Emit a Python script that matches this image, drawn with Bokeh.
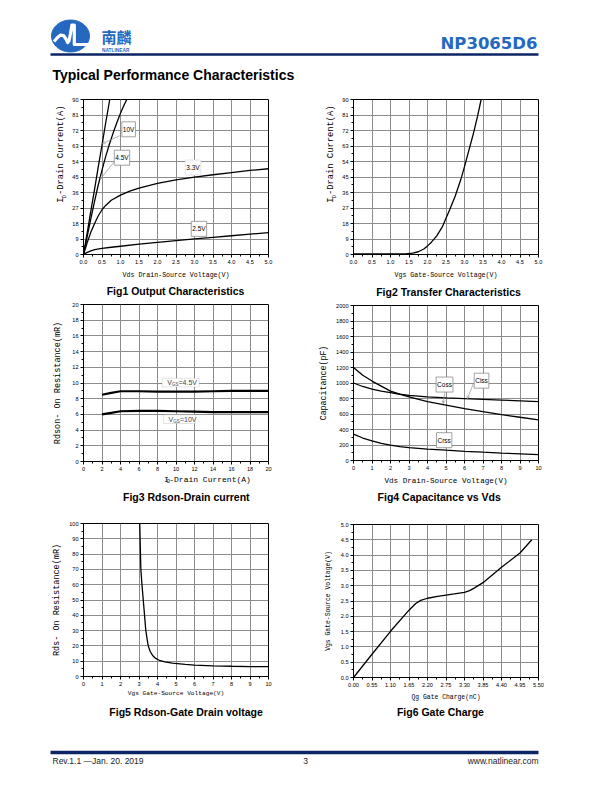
import math
from bokeh.plotting import figure
from bokeh.layouts import column, row
from bokeh.models import (Range1d, FixedTicker, PrintfTickFormatter, Label,
                          BoxAnnotation, Arrow, OpenHead)
from bokeh.embed import file_html
from bokeh.resources import INLINE
from bokeh.core.properties import value

# ---------------- data ----------------
# Fig1 Output Characteristics: Vds (V) -> Id (A) for several Vgs
f1_x_10v = [0, 0.1, 0.2, 0.3, 0.4, 0.5, 0.6, 0.71]
f1_y_10v = [0, 12.5, 25.5, 38, 51, 63.5, 76.5, 90]
f1_x_45v = [0, 0.1, 0.2, 0.3, 0.4, 0.5, 0.6, 0.7, 0.8, 0.9, 1.0, 1.1, 1.17]
f1_y_45v = [0, 10.5, 21, 31, 40.5, 49, 57, 64, 70.5, 76.5, 82, 87, 90]
f1_x_33v = [0, 0.1, 0.2, 0.3, 0.4, 0.5, 0.6, 0.75, 1.0, 1.25, 1.5, 2.0, 2.5, 3.0, 3.5, 4.0, 4.5, 5.0]
f1_y_33v = [0, 7, 13, 18, 22.5, 26, 28.5, 31.5, 34.5, 36.8, 38.6, 41.3, 43.3, 44.9, 46.3, 47.6, 48.8, 49.8]
f1_x_25v = [0, 0.1, 0.2, 0.3, 0.5, 0.75, 1.0, 1.5, 2.0, 2.5, 3.0, 3.5, 4.0, 4.5, 5.0]
f1_y_25v = [0, 1.2, 2.1, 2.8, 3.5, 4.2, 4.8, 6.0, 7.1, 8.1, 9.1, 10.0, 10.9, 11.8, 12.7]
f1_label_text = ["10V", "4.5V", "3.3V", "2.5V"]
f1_label_x = [1.22, 1.04, 2.96, 3.12]
f1_label_y = [72.7, 56.2, 50.5, 14.9]
f1_leader_start = [(0.98, 69.0), (0.82, 53.6)]
f1_leader_end = [(0.505, 64.3), (0.46, 43.9)]
f1_xticks = [0, 0.5, 1.0, 1.5, 2.0, 2.5, 3.0, 3.5, 4.0, 4.5, 5.0]
f1_yticks = [0, 9, 18, 27, 36, 45, 54, 63, 72, 81, 90]

# Fig2 Transfer Characteristics: Vgs (V) -> Id (A)
f2_vgs = [0, 0.5, 1.0, 1.4, 1.6, 1.75, 1.9, 2.0, 2.1, 2.25, 2.4, 2.5, 2.6, 2.75, 2.9, 3.0, 3.1, 3.25, 3.35, 3.45]
f2_id = [0.3, 0.3, 0.3, 0.4, 0.8, 1.6, 3.2, 5, 7, 10.8, 16, 21, 26, 34, 43.5, 51, 59, 71, 80, 90]
f2_xticks = f1_xticks
f2_yticks = f1_yticks

# Fig3 Rdson vs Drain current
f3_id = [2, 3, 4, 6, 8, 10, 12, 14, 16, 18, 20]
f3_r_45v = [8.5, 8.75, 8.95, 8.95, 8.9, 8.9, 8.9, 8.95, 9.0, 9.0, 9.0]
f3_r_10v = [6.0, 6.2, 6.4, 6.45, 6.45, 6.4, 6.35, 6.3, 6.3, 6.3, 6.3]
f3_box_left = [8.5, 8.65]
f3_box_right = [12.5, 12.1]
f3_box_top = [10.6, 5.95]
f3_box_bottom = [9.5, 4.84]
f3_box_text = ["=4.5V", "=10V"]
f3_xticks = [0, 2, 4, 6, 8, 10, 12, 14, 16, 18, 20]
f3_yticks = [0, 2, 4, 6, 8, 10, 12, 14, 16, 18, 20]

# Fig4 Capacitance vs Vds
f4_vds = [0, 0.5, 1, 1.5, 2, 2.5, 3, 4, 5, 6, 7, 8, 9, 10]
f4_coss = [1200, 1100, 1025, 960, 895, 855, 820, 760, 715, 670, 630, 592, 558, 525]
f4_ciss = [1000, 955, 922, 895, 875, 855, 840, 822, 808, 798, 788, 779, 770, 760]
f4_crss = [340, 290, 252, 222, 198, 180, 165, 148, 133, 119, 107, 96, 86, 76]
f4_label_text = ["Coss", "Ciss", "Crss"]
f4_label_x = [4.92, 6.92, 4.9]
f4_label_y = [980, 1030, 262]
f4_arrow_start = [(4.97, 929), (6.5, 1003)]
f4_arrow_end = [(4.85, 735), (6.15, 796)]
f4_xticks = [0, 1, 2, 3, 4, 5, 6, 7, 8, 9, 10]
f4_yticks = [0, 200, 400, 600, 800, 1000, 1200, 1400, 1600, 1800, 2000]

# Fig5 Rdson vs Vgs
f5_vgs = [3.04, 3.07, 3.1, 3.16, 3.23, 3.3, 3.36, 3.43, 3.5, 3.6, 3.75, 3.9, 4.1, 4.4, 4.8, 5.5, 6, 7, 8, 9, 10]
f5_rds = [100, 85, 70, 60, 50, 40, 31, 25, 20, 16.5, 13.5, 11.8, 10.6, 9.6, 8.8, 7.9, 7.5, 7.0, 6.7, 6.5, 6.4]
f5_xticks = [0, 1, 2, 3, 4, 5, 6, 7, 8, 9, 10]
f5_yticks = [0, 10, 20, 30, 40, 50, 60, 70, 80, 90, 100]

# Fig6 Gate charge
f6_qg = [0, 0.55, 1.1, 1.65, 1.85, 2.0, 2.2, 2.5, 2.75, 3.0, 3.3, 3.45, 3.6, 3.85, 4.4, 4.95, 5.3]
f6_vgs = [0, 0.76, 1.51, 2.2, 2.42, 2.52, 2.59, 2.65, 2.69, 2.73, 2.78, 2.84, 2.93, 3.1, 3.6, 4.07, 4.5]
f6_xticks = [0, 0.55, 1.1, 1.65, 2.2, 2.75, 3.3, 3.85, 4.4, 4.95, 5.5]
f6_yticks = [0, 0.5, 1.0, 1.5, 2.0, 2.5, 3.0, 3.5, 4.0, 4.5, 5.0]

captions = ["Fig1 Output Characteristics", "Fig2 Transfer Characteristics",
            "Fig3 Rdson-Drain current", "Fig4 Capacitance vs Vds",
            "Fig5  Rdson-Gate Drain voltage", "Fig6 Gate Charge"]

# ---------------- styles ----------------
TICK_FONT = "Liberation Sans"
MONO = "Liberation Mono"
SANS = "Liberation Sans"
NAVY = "#0b2565"
BLUE = "#2468c0"
GRID = "#8c8c8c"
LEAD = "#909090"


def minors(ticks):
    return [(a + b) / 2 for a, b in zip(ticks[:-1], ticks[1:])]


def base_chart(w, h, ml, mr, mt, mb, xr, yr, xt, yt, xfmt, yfmt):
    p = figure(width=w, height=h, x_range=Range1d(*xr), y_range=Range1d(*yr),
               output_backend="svg", toolbar_location=None,
               min_border_left=ml, min_border_right=mr,
               min_border_top=mt, min_border_bottom=mb)
    p.background_fill_color = "white"
    p.border_fill_color = "white"
    p.outline_line_color = "black"
    p.outline_line_width = 1
    p.outline_line_alpha = 1
    for ax, ticks, fmt in ((p.xaxis[0], xt, xfmt), (p.yaxis[0], yt, yfmt)):
        ax.ticker = FixedTicker(ticks=ticks, minor_ticks=minors(ticks))
        ax.formatter = PrintfTickFormatter(format=fmt)
        ax.axis_line_color = "black"
        ax.major_tick_line_color = "black"
        ax.minor_tick_line_color = "black"
        ax.major_tick_out = 3
        ax.major_tick_in = 0
        ax.minor_tick_out = 2
        ax.minor_tick_in = 0
        ax.major_label_standoff = 2
        ax.major_label_text_font = TICK_FONT
        ax.major_label_text_font_size = "5.6px"
        ax.major_label_text_color = "black"
        ax.axis_label_text_font = MONO
        ax.axis_label_text_font_style = "normal"
        ax.axis_label_text_color = "black"
    p.grid.grid_line_color = GRID
    p.grid.grid_line_width = 1
    return p


def strip(w, h, x0, y0):
    """Text-only panel whose data coordinates equal page pixels."""
    f = figure(width=w, height=h, x_range=Range1d(x0, x0 + w), y_range=Range1d(y0 + h, y0),
               output_backend="svg", toolbar_location=None, min_border=0,
               x_axis_type=None, y_axis_type=None)
    f.outline_line_color = None
    f.background_fill_color = "white"
    f.border_fill_color = "white"
    return f


def put_caption(f, text, cx, cy):
    f.text(x=[cx], y=[cy], text=[text], text_font=value(SANS), text_font_style="bold",
           text_font_size="10.5px", text_align="center", text_baseline="middle",
           text_color="black")


def y_sub_label(f, x, y0, main, sub, rest, size, subsize):
    # rotated label reading bottom-to-top, with a subscript
    cw = 0.6 * size
    f.text(x=[x], y=[y0], text=[main], angle=math.pi / 2, text_align="left",
           text_baseline="middle", text_font=value(MONO), text_font_size=f"{size}px",
           text_color="black")
    f.text(x=[x + 2.8], y=[y0 - cw * len(main) - 0.5], text=[sub], angle=math.pi / 2,
           text_align="left", text_baseline="middle", text_font=value(MONO),
           text_font_size=f"{subsize}px", text_color="black")
    f.text(x=[x], y=[y0 - cw * len(main) - 0.6 * subsize * len(sub) - 1.0], text=[rest],
           angle=math.pi / 2, text_align="left", text_baseline="middle",
           text_font=value(MONO), text_font_size=f"{size}px", text_color="black")


def x_sub_label(f, x0, y, main, sub, rest, size, subsize):
    cw = 0.6 * size
    f.text(x=[x0], y=[y], text=[main], text_align="left", text_baseline="middle",
           text_font=value(MONO), text_font_size=f"{size}px", text_color="black")
    f.text(x=[x0 + cw * len(main) + 0.5], y=[y + 2.8], text=[sub], text_align="left",
           text_baseline="middle", text_font=value(MONO), text_font_size=f"{subsize}px",
           text_color="black")
    f.text(x=[x0 + cw * len(main) + 0.6 * subsize * len(sub) + 1.0], y=[y], text=[rest],
           text_align="left", text_baseline="middle", text_font=value(MONO),
           text_font_size=f"{size}px", text_color="black")


def boxed(p, x, y, text, border="#8a8a8a", size="6.5px"):
    p.add_layout(Label(x=x, y=y, text=text, text_align="center", text_baseline="middle",
                       text_font=SANS, text_font_size=size, text_color="black",
                       background_fill_color="white", background_fill_alpha=1,
                       border_line_color=border, border_line_width=0.8,
                       padding=(1, 4)))


# ---------------- header (page y 0..90) ----------------
hdr = strip(604, 90, 0, 0)
hdr.ellipse(x=[70], y=[35.5], width=[38], height=[32], fill_color=BLUE, line_color=BLUE)
hdr.line([53.5, 57, 60, 63, 65.5, 67.2, 68.6, 70, 71.4, 73.8, 73.8, 88],
         [41, 37, 34.6, 35, 38.5, 42, 40, 33, 24.5, 24.5, 44, 44],
         line_color="white", line_width=3.2, line_join="round")
hdr.text(x=[101], y=[36], text=["南麟"], text_font=value("Noto Sans CJK SC"),
         text_font_style="bold", text_font_size="15px", text_color=BLUE,
         text_baseline="middle", text_align="left")
hdr.text(x=[101.5], y=[49.5], text=["NATLINEAR"], text_font=value(SANS),
         text_font_style="bold", text_font_size="4.8px", text_color=BLUE,
         text_baseline="middle", text_align="left")
hdr.line([50, 538], [54, 54], line_color=NAVY, line_width=2.5)
hdr.text(x=[537], y=[52.5], text=["NP3065D6"], text_font=value("DejaVu Sans"),
         text_font_style="bold", text_font_size="16.5px", text_color=BLUE,
         text_baseline="bottom", text_align="right")
hdr.text(x=[52], y=[74], text=["Typical Performance Characteristics"], text_font=value(SANS),
         text_font_style="bold", text_font_size="14px", text_color="black",
         text_baseline="middle", text_align="left")

# ---------------- Fig1 (page x 0..306, y 90..300) ----------------
p1 = base_chart(238, 192, 15, 38, 9, 28, (0, 5), (0, 90), f1_xticks, f1_yticks, "%.1f", "%d")
for xs, ys in ((f1_x_10v, f1_y_10v), (f1_x_45v, f1_y_45v), (f1_x_33v, f1_y_33v), (f1_x_25v, f1_y_25v)):
    p1.line(xs, ys, line_color="black", line_width=1.3)
for (xs, ys), (xe, ye) in zip(f1_leader_start, f1_leader_end):
    p1.add_layout(Arrow(x_start=xs, y_start=ys, x_end=xe, y_end=ye, line_color=LEAD,
                        line_width=0.7, end=OpenHead(size=3, line_color=LEAD, line_width=0.7)))
for t, x, y in zip(f1_label_text, f1_label_x, f1_label_y):
    boxed(p1, x, y, t, border="#dddddd" if t == "3.3V" else "#8a8a8a")
p1.xaxis.axis_label = "Vds Drain-Source Voltage(V)"
p1.xaxis.axis_label_text_font_size = "6.6px"
p1.xaxis.axis_label_standoff = 5
l1 = strip(68, 192, 0, 90)
y_sub_label(l1, 60.7, 218, "I", "D", "-Drain Current(A)", 8.8, 5.5)
t1 = strip(306, 18, 0, 282)
put_caption(t1, captions[0], 175, 290)
cell1 = column(row(l1, p1), t1)

# ---------------- Fig2 (page x 306..604, y 90..300) ----------------
p2 = base_chart(266, 192, 15, 66, 9, 28, (0, 5), (0, 90), f2_xticks, f2_yticks, "%.1f", "%d")
p2.line(f2_vgs, f2_id, line_color="black", line_width=1.3)
p2.xaxis.axis_label = "Vgs Gate-Source Voltage(V)"
p2.xaxis.axis_label_text_font_size = "6.6px"
p2.xaxis.axis_label_standoff = 5
l2 = strip(32, 192, 306, 90)
y_sub_label(l2, 330.7, 218, "I", "D", "-Drain Current(A)", 8.8, 5.5)
t2 = strip(298, 18, 306, 282)
put_caption(t2, captions[1], 448, 291)
cell2 = column(row(l2, p2), t2)

# ---------------- Fig3 (page x 0..306, y 300..505) ----------------
p3 = base_chart(306, 173, 83, 38, 4, 12, (0, 20), (0, 20), f3_xticks, f3_yticks, "%d", "%d")
p3.line(f3_id, f3_r_45v, line_color="black", line_width=2.2)
p3.line(f3_id, f3_r_10v, line_color="black", line_width=2.2)
for l, r, t, b, txt in zip(f3_box_left, f3_box_right, f3_box_top, f3_box_bottom, f3_box_text):
    p3.add_layout(BoxAnnotation(left=l, right=r, top=t, bottom=b, fill_color="white",
                                fill_alpha=1, line_color="#8a8a8a", line_width=0.8))
    ym = (t + b) / 2
    p3.add_layout(Label(x=l, y=ym, x_offset=5, text="V", text_font=SANS, text_font_size="7px",
                        text_baseline="middle", text_align="left"))
    p3.add_layout(Label(x=l, y=ym, x_offset=9.8, y_offset=-2.2, text="GS", text_font=SANS,
                        text_font_size="4.5px", text_baseline="middle", text_align="left"))
    p3.add_layout(Label(x=l, y=ym, x_offset=16.4, text=txt, text_font=SANS, text_font_size="7px",
                        text_baseline="middle", text_align="left"))
p3.yaxis.axis_label = "Rdson- On Resistance(mR)"
p3.yaxis.axis_label_text_font_size = "8.5px"
p3.yaxis.axis_label_standoff = 6
t3 = strip(306, 32, 0, 473)
x_sub_label(t3, 133, 478.5, "I", "D", "-Drain Current(A)", 8, 5)
put_caption(t3, captions[2], 170, 496)
cell3 = column(p3, t3)

# ---------------- Fig4 (page x 306..604, y 300..505) ----------------
p4 = base_chart(298, 187, 47, 66, 5, 27, (0, 10), (0, 2000), f4_xticks, f4_yticks, "%d", "%d")
for ys in (f4_coss, f4_ciss, f4_crss):
    p4.line(f4_vds, ys, line_color="black", line_width=1.3)
for (xs, ys), (xe, ye) in zip(f4_arrow_start, f4_arrow_end):
    p4.add_layout(Arrow(x_start=xs, y_start=ys, x_end=xe, y_end=ye, line_color=LEAD,
                        line_width=0.7, end=OpenHead(size=3, line_color=LEAD, line_width=0.7)))
for t, x, y in zip(f4_label_text, f4_label_x, f4_label_y):
    boxed(p4, x, y, t)
p4.xaxis.axis_label = "Vds Drain-Source Voltage(V)"
p4.xaxis.axis_label_text_font_size = "7.6px"
p4.xaxis.axis_label_standoff = 4
p4.yaxis.axis_label = "Capacitance(pF)"
p4.yaxis.axis_label_text_font_size = "8.3px"
p4.yaxis.axis_label_standoff = 5
t4 = strip(298, 18, 306, 487)
put_caption(t4, captions[3], 444, 496)
cell4 = column(p4, t4)

# ---------------- Fig5 (page x 0..306, y 505..725) ----------------
p5 = base_chart(306, 194, 83, 38, 18, 22, (0, 10), (0, 100), f5_xticks, f5_yticks, "%d", "%d")
p5.line(f5_vgs, f5_rds, line_color="black", line_width=1.3)
p5.xaxis.axis_label = "Vgs Gate-Source Voltage(V)"
p5.xaxis.axis_label_text_font_size = "6.2px"
p5.xaxis.axis_label_standoff = 1
p5.yaxis.axis_label = "Rds- On Resistance(mR)"
p5.yaxis.axis_label_text_font_size = "8.5px"
p5.yaxis.axis_label_standoff = 4
t5 = strip(306, 26, 0, 699)
put_caption(t5, captions[4], 172, 711)
cell5 = column(p5, t5)

# ---------------- Fig6 (page x 306..604, y 505..725) ----------------
p6 = base_chart(298, 198, 47, 66, 19, 25, (0, 5.5), (0, 5), f6_xticks, f6_yticks, "%.2f", "%.1f")
p6.line(f6_qg, f6_vgs, line_color="black", line_width=1.3)
p6.xaxis.axis_label = "Qg Gate Charge(nC)"
p6.xaxis.axis_label_text_font_size = "6.4px"
p6.xaxis.axis_label_standoff = 4
p6.yaxis.axis_label = "Vgs Gate-Source Voltage(V)"
p6.yaxis.axis_label_text_font_size = "6.4px"
p6.yaxis.axis_label_standoff = 6
t6 = strip(298, 22, 306, 703)
put_caption(t6, captions[5], 446, 711)
cell6 = column(p6, t6)

# ---------------- footer (page y 725..784) ----------------
ftr = strip(604, 59, 0, 725)
ftr.line([50, 538], [752, 752], line_color=NAVY, line_width=3.5)
ftr.text(x=[52], y=[760], text=["Rev.1.1 —Jan. 20. 2019"], text_font=value(SANS),
         text_font_size="8.5px", text_color="#222222", text_baseline="middle", text_align="left")
ftr.text(x=[305], y=[760], text=["3"], text_font=value(SANS), text_font_size="8.5px",
         text_color="#222222", text_baseline="middle", text_align="center")
ftr.text(x=[538], y=[760], text=["www.natlinear.com"], text_font=value(SANS),
         text_font_size="8.5px", text_color="#222222", text_baseline="middle", text_align="right")

page = column(hdr, row(cell1, cell2), row(cell3, cell4), row(cell5, cell6), ftr)
open("out.html", "w").write(file_html(page, INLINE))
